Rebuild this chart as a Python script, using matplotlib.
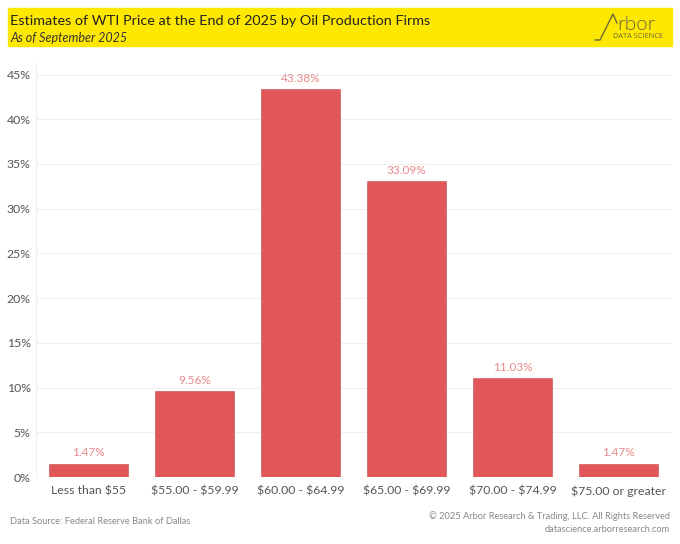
import matplotlib.pyplot as plt
from matplotlib.patches import Rectangle
from matplotlib.ticker import FuncFormatter

plt.rcParams['font.family'] = ['Lato', 'DejaVu Sans']
plt.rcParams['text.parse_math'] = False

# data
categories = ['Less than $55', '$55.00 - $59.99', '$60.00 - $64.99',
              '$65.00 - $69.99', '$70.00 - $74.99', '$75.00 or greater']
shares = [1.47, 9.56, 43.38, 33.09, 11.03, 1.47]

bar_color = '#e15759'
label_color = '#e8898b'
text_gray = '#555555'
logo_color = '#6b6840'

fig = plt.figure(figsize=(6.8, 5.44), dpi=100)

# yellow header band
fig.patches.append(Rectangle((8 / 680, 1 - 46 / 544), 664 / 680, 38 / 544,
                             transform=fig.transFigure, color='#ffe800', zorder=-1))
fig.text(10 / 680, 1 - 21 / 544, 'Estimates of WTI Price at the End of 2025 by Oil Production Firms',
         fontsize=10.4, color='#222222', va='center', ha='left')
fig.text(10 / 680, 1 - 38 / 544, 'As of September 2025', fontsize=9, style='italic',
         color='#333333', va='center', ha='left')

# logo
logo = fig.add_axes([592 / 680, 1 - 44 / 544, 78 / 680, 36 / 544])
logo.set_zorder(2)
logo.patch.set_visible(False)
logo.set_xlim(0, 78)
logo.set_ylim(36, 0)
logo.axis('off')
logo.plot([3, 8, 21, 25], [32, 32, 6, 15], color=logo_color, lw=1)
logo.text(25, 16.5, 'rbor', fontsize=14, fontweight='light', family='Open Sans',
          color=logo_color, va='center', ha='left')
logo.text(71, 28, 'DATA SCIENCE', fontsize=5.3, family='Open Sans', color=logo_color,
          va='center', ha='right')

ax = fig.add_axes([35.5 / 680, 1 - 477 / 544, 636 / 680, 415 / 544])
x = range(len(categories))
ax.bar(x, shares, width=0.745, color=bar_color, edgecolor='#c94a4c', linewidth=0.4, zorder=2)
for i, v in enumerate(shares):
    ax.text(i, v + 0.6, f'{v:.2f}%', ha='center', va='bottom', fontsize=8.5, color=label_color)

ax.set_xlim(-0.5, len(categories) - 0.5)
ax.set_ylim(0, 46.4)
ax.set_yticks(range(0, 50, 5))
ax.yaxis.set_major_formatter(FuncFormatter(lambda v, p: f'{v:.0f}%'))
ax.set_xticks(list(x))
ax.set_xticklabels(categories)
ax.tick_params(axis='both', length=0, labelsize=8.8, colors=text_gray)
ax.tick_params(axis='x', pad=6)
ax.grid(axis='y', color='#f0f0f0', linewidth=0.8, zorder=0)
for s in ['top', 'right', 'bottom']:
    ax.spines[s].set_visible(False)
ax.spines['left'].set_color('#f0f0f0')

fig.text(10 / 680, 1 - 522 / 544, 'Data Source: Federal Reserve Bank of Dallas',
         fontsize=6.7, color='#888888', va='center', ha='left')
fig.text(670 / 680, 1 - 516 / 544, '© 2025 Arbor Research & Trading, LLC. All Rights Reserved',
         fontsize=6.7, color='#888888', va='center', ha='right')
fig.text(670 / 680, 1 - 530 / 544, 'datascience.arborresearch.com',
         fontsize=6.7, color='#888888', va='center', ha='right')

fig.savefig('out.png', dpi=100)
